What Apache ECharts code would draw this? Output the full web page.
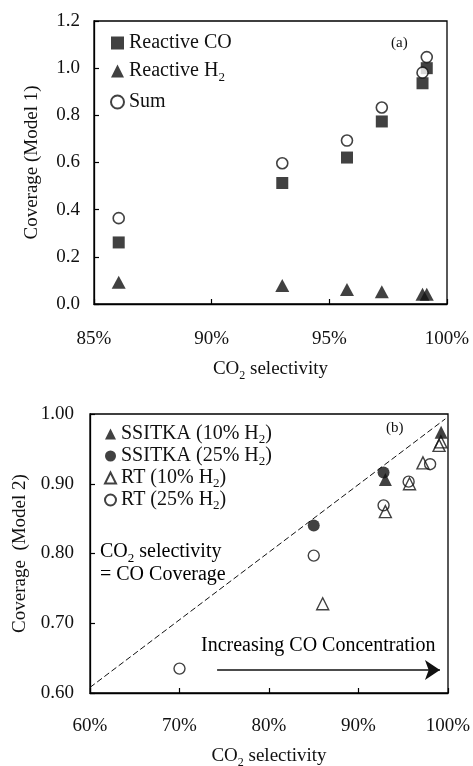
<!DOCTYPE html>
<html><head><meta charset="utf-8">
<script src="https://cdn.jsdelivr.net/npm/echarts@6/dist/echarts.min.js"></script>
<style>html,body{margin:0;padding:0;background:#fff;}#c{width:473px;height:766px;}</style>
</head><body><div id="c"></div>
<script>
// ---- Panel (a) data ----
const selA = [86.05, 93.0, 95.75, 97.23, 98.96, 99.14];
const reactiveCO = [0.261, 0.513, 0.621, 0.774, 0.936, 1.0];
const reactiveH2 = [0.092, 0.078, 0.062, 0.052, 0.041, 0.041];
const sumA = [0.364, 0.597, 0.693, 0.833, 0.981, 1.047];
// ---- Panel (b) data ----
const ssitka10 = [[99.23, 0.974], [93.0, 0.906]];
const ssitka25 = [[92.8, 0.916], [85.0, 0.840]];
const rt10 = [[86.0, 0.728], [93.0, 0.860], [95.7, 0.900], [97.2, 0.930], [99.0, 0.955], [99.2, 0.960]];
const rt25 = [[70.0, 0.635], [85.0, 0.797], [92.8, 0.869], [95.6, 0.903], [98.0, 0.928]];
const parityLine = [[60, 0.608], [99.7, 0.993]];
const arrowLine = [[74.2, 0.633], [99.1, 0.633]];

const FF = '"Liberation Serif", "Times New Roman", serif';
const rich = {
  t: {fontFamily: FF, fontSize: 20, color: '#111', lineHeight: 22},
  s: {fontFamily: FF, fontSize: 13, color: '#111', lineHeight: 22, verticalAlign: 'bottom', padding: [0,0,-2,0]}
};
const richB = {
  t: {fontFamily: FF, fontSize: 20, color: '#111', lineHeight: 20},
  s: {fontFamily: FF, fontSize: 13, color: '#111', lineHeight: 20, verticalAlign: 'bottom', padding: [0,0,-2,0]}
};
const richAxis = {
  t: {fontFamily: FF, fontSize: 19, color: '#111', lineHeight: 22},
  s: {fontFamily: FF, fontSize: 12, color: '#111', lineHeight: 22, verticalAlign: 'bottom', padding: [0,0,-2,0]}
};
function sub(name) {
  const i = name.indexOf('H2');
  if (i < 0) return '{t|' + name + '}';
  return '{t|' + name.slice(0, i + 1) + '}{s|2}{t|' + name.slice(i + 2) + '}';
}
const zip = (xs, ys) => xs.map((x, i) => [x, ys[i]]);

const axisCommon = {
  axisLine: {show: true, lineStyle: {color: '#000', width: 1.3}},
  axisTick: {show: true, inside: true, length: 5, lineStyle: {color: '#000', width: 1.2}},
  splitLine: {show: false},
  axisLabel: {fontFamily: FF, fontSize: 19, color: '#111'}
};

const chart = echarts.init(document.getElementById('c'), null, {renderer: 'canvas'});
chart.setOption({
  backgroundColor: '#fff',
  animation: false,
  textStyle: {fontFamily: FF},
  grid: [
    {left: 94, top: 21, width: 353, height: 283, show: true, borderColor: '#000', borderWidth: 1.3, outerBoundsMode: 'none', containLabel: false},
    {left: 90, top: 414, width: 358, height: 279, show: true, borderColor: '#000', borderWidth: 1.3, outerBoundsMode: 'none', containLabel: false}
  ],
  xAxis: [
    Object.assign({}, axisCommon, {
      type: 'value', gridIndex: 0, min: 85, max: 100, interval: 5,
      axisLabel: Object.assign({}, axisCommon.axisLabel, {margin: 26, formatter: v => v + '%'}),
      name: '{t|CO}{s|2}{t| selectivity}', nameLocation: 'middle', nameGap: 54,
      nameTextStyle: {fontFamily: FF, rich: richAxis}
    }),
    Object.assign({}, axisCommon, {
      type: 'value', gridIndex: 1, min: 60, max: 100, interval: 10,
      axisLabel: Object.assign({}, axisCommon.axisLabel, {margin: 24, formatter: v => v + '%'}),
      name: '{t|CO}{s|2}{t| selectivity}', nameLocation: 'middle', nameGap: 52,
      nameTextStyle: {fontFamily: FF, rich: richAxis}
    })
  ],
  yAxis: [
    Object.assign({}, axisCommon, {
      type: 'value', gridIndex: 0, min: 0, max: 1.2, interval: 0.2,
      axisLabel: Object.assign({}, axisCommon.axisLabel, {margin: 14, formatter: v => v.toFixed(1)}),
      name: 'Coverage (Model 1)', nameLocation: 'middle', nameGap: 52,
      nameTextStyle: {fontFamily: FF, fontSize: 19, color: '#111'}
    }),
    Object.assign({}, axisCommon, {
      type: 'value', gridIndex: 1, min: 0.6, max: 1.0, interval: 0.1,
      axisLabel: Object.assign({}, axisCommon.axisLabel, {margin: 16, formatter: v => v.toFixed(2)}),
      name: 'Coverage  (Model 2)', nameLocation: 'middle', nameGap: 58,
      nameTextStyle: {fontFamily: FF, fontSize: 19, color: '#111'}
    })
  ],
  legend: [
    {
      data: ['Reactive CO', 'Reactive H2', 'Sum'], orient: 'vertical', left: 105, top: 28,
      itemWidth: 13, itemHeight: 13, itemGap: 8, selectedMode: false,
      formatter: sub, textStyle: {fontFamily: FF, fontSize: 20, color: '#111', rich: rich}
    },
    {
      data: ['SSITKA (10% H2)', 'SSITKA (25% H2)', 'RT (10% H2)', 'RT (25% H2)'], orient: 'vertical', left: 99, top: 419,
      itemWidth: 11, itemHeight: 11, itemGap: 0, selectedMode: false,
      formatter: sub, textStyle: {fontFamily: FF, fontSize: 20, color: '#111', rich: richB}
    }
  ],
  series: [
    {name: 'Reactive CO', type: 'scatter', xAxisIndex: 0, yAxisIndex: 0, symbol: 'rect', symbolSize: 12,
     itemStyle: {color: '#111'}, data: zip(selA, reactiveCO), z: 2},
    {name: 'Reactive H2', type: 'scatter', xAxisIndex: 0, yAxisIndex: 0, symbol: 'triangle', symbolSize: [14, 13],
     itemStyle: {color: '#111'}, data: zip(selA, reactiveH2), z: 2},
    {name: 'Sum', type: 'scatter', xAxisIndex: 0, yAxisIndex: 0, symbol: 'circle', symbolSize: 11,
     itemStyle: {color: '#fff', borderColor: '#111', borderWidth: 1.6}, data: zip(selA, sumA), z: 3},
    {name: 'parity', type: 'line', xAxisIndex: 1, yAxisIndex: 1, showSymbol: false, symbol: 'none',
     lineStyle: {color: '#111', width: 1, type: [6, 3]}, data: parityLine, z: 1,
     markLine: {silent: true, symbol: ['none', 'arrow'], symbolSize: 15,
       lineStyle: {color: '#111', width: 1.5, type: 'solid'}, label: {show: false},
       data: [[{coord: arrowLine[0]}, {coord: arrowLine[1]}]]}},
    {name: 'RT (10% H2)', type: 'scatter', xAxisIndex: 1, yAxisIndex: 1, symbol: 'triangle', symbolSize: 12,
     itemStyle: {color: 'rgba(255,255,255,0)', borderColor: '#111', borderWidth: 1.4}, data: rt10, z: 3},
    {name: 'RT (25% H2)', type: 'scatter', xAxisIndex: 1, yAxisIndex: 1, symbol: 'circle', symbolSize: 11,
     itemStyle: {color: 'rgba(255,255,255,0)', borderColor: '#111', borderWidth: 1.4}, data: rt25, z: 3},
    {name: 'SSITKA (10% H2)', type: 'scatter', xAxisIndex: 1, yAxisIndex: 1, symbol: 'triangle', symbolSize: 13,
     itemStyle: {color: '#111'}, data: ssitka10, z: 4},
    {name: 'SSITKA (25% H2)', type: 'scatter', xAxisIndex: 1, yAxisIndex: 1, symbol: 'circle', symbolSize: 12,
     itemStyle: {color: '#111'}, data: ssitka25, z: 4}
  ],
  graphic: [
    {type: 'text', left: 391, top: 36, style: {text: '(a)', font: '15px ' + FF, fill: '#111'}},
    {type: 'text', left: 386, top: 421, style: {text: '(b)', font: '15px ' + FF, fill: '#111'}},
    {type: 'text', left: 100, top: 542, style: {text: '{t|CO}{s|2}{t| selectivity}', font: '20px ' + FF, rich: rich}},
    {type: 'text', left: 100, top: 565, style: {text: '{t|= CO Coverage}', font: '20px ' + FF, rich: rich}},
    {type: 'text', left: 201, top: 636, style: {text: '{t|Increasing CO Concentration}', font: '20px ' + FF, rich: rich}}
  ]
});
</script></body></html>
